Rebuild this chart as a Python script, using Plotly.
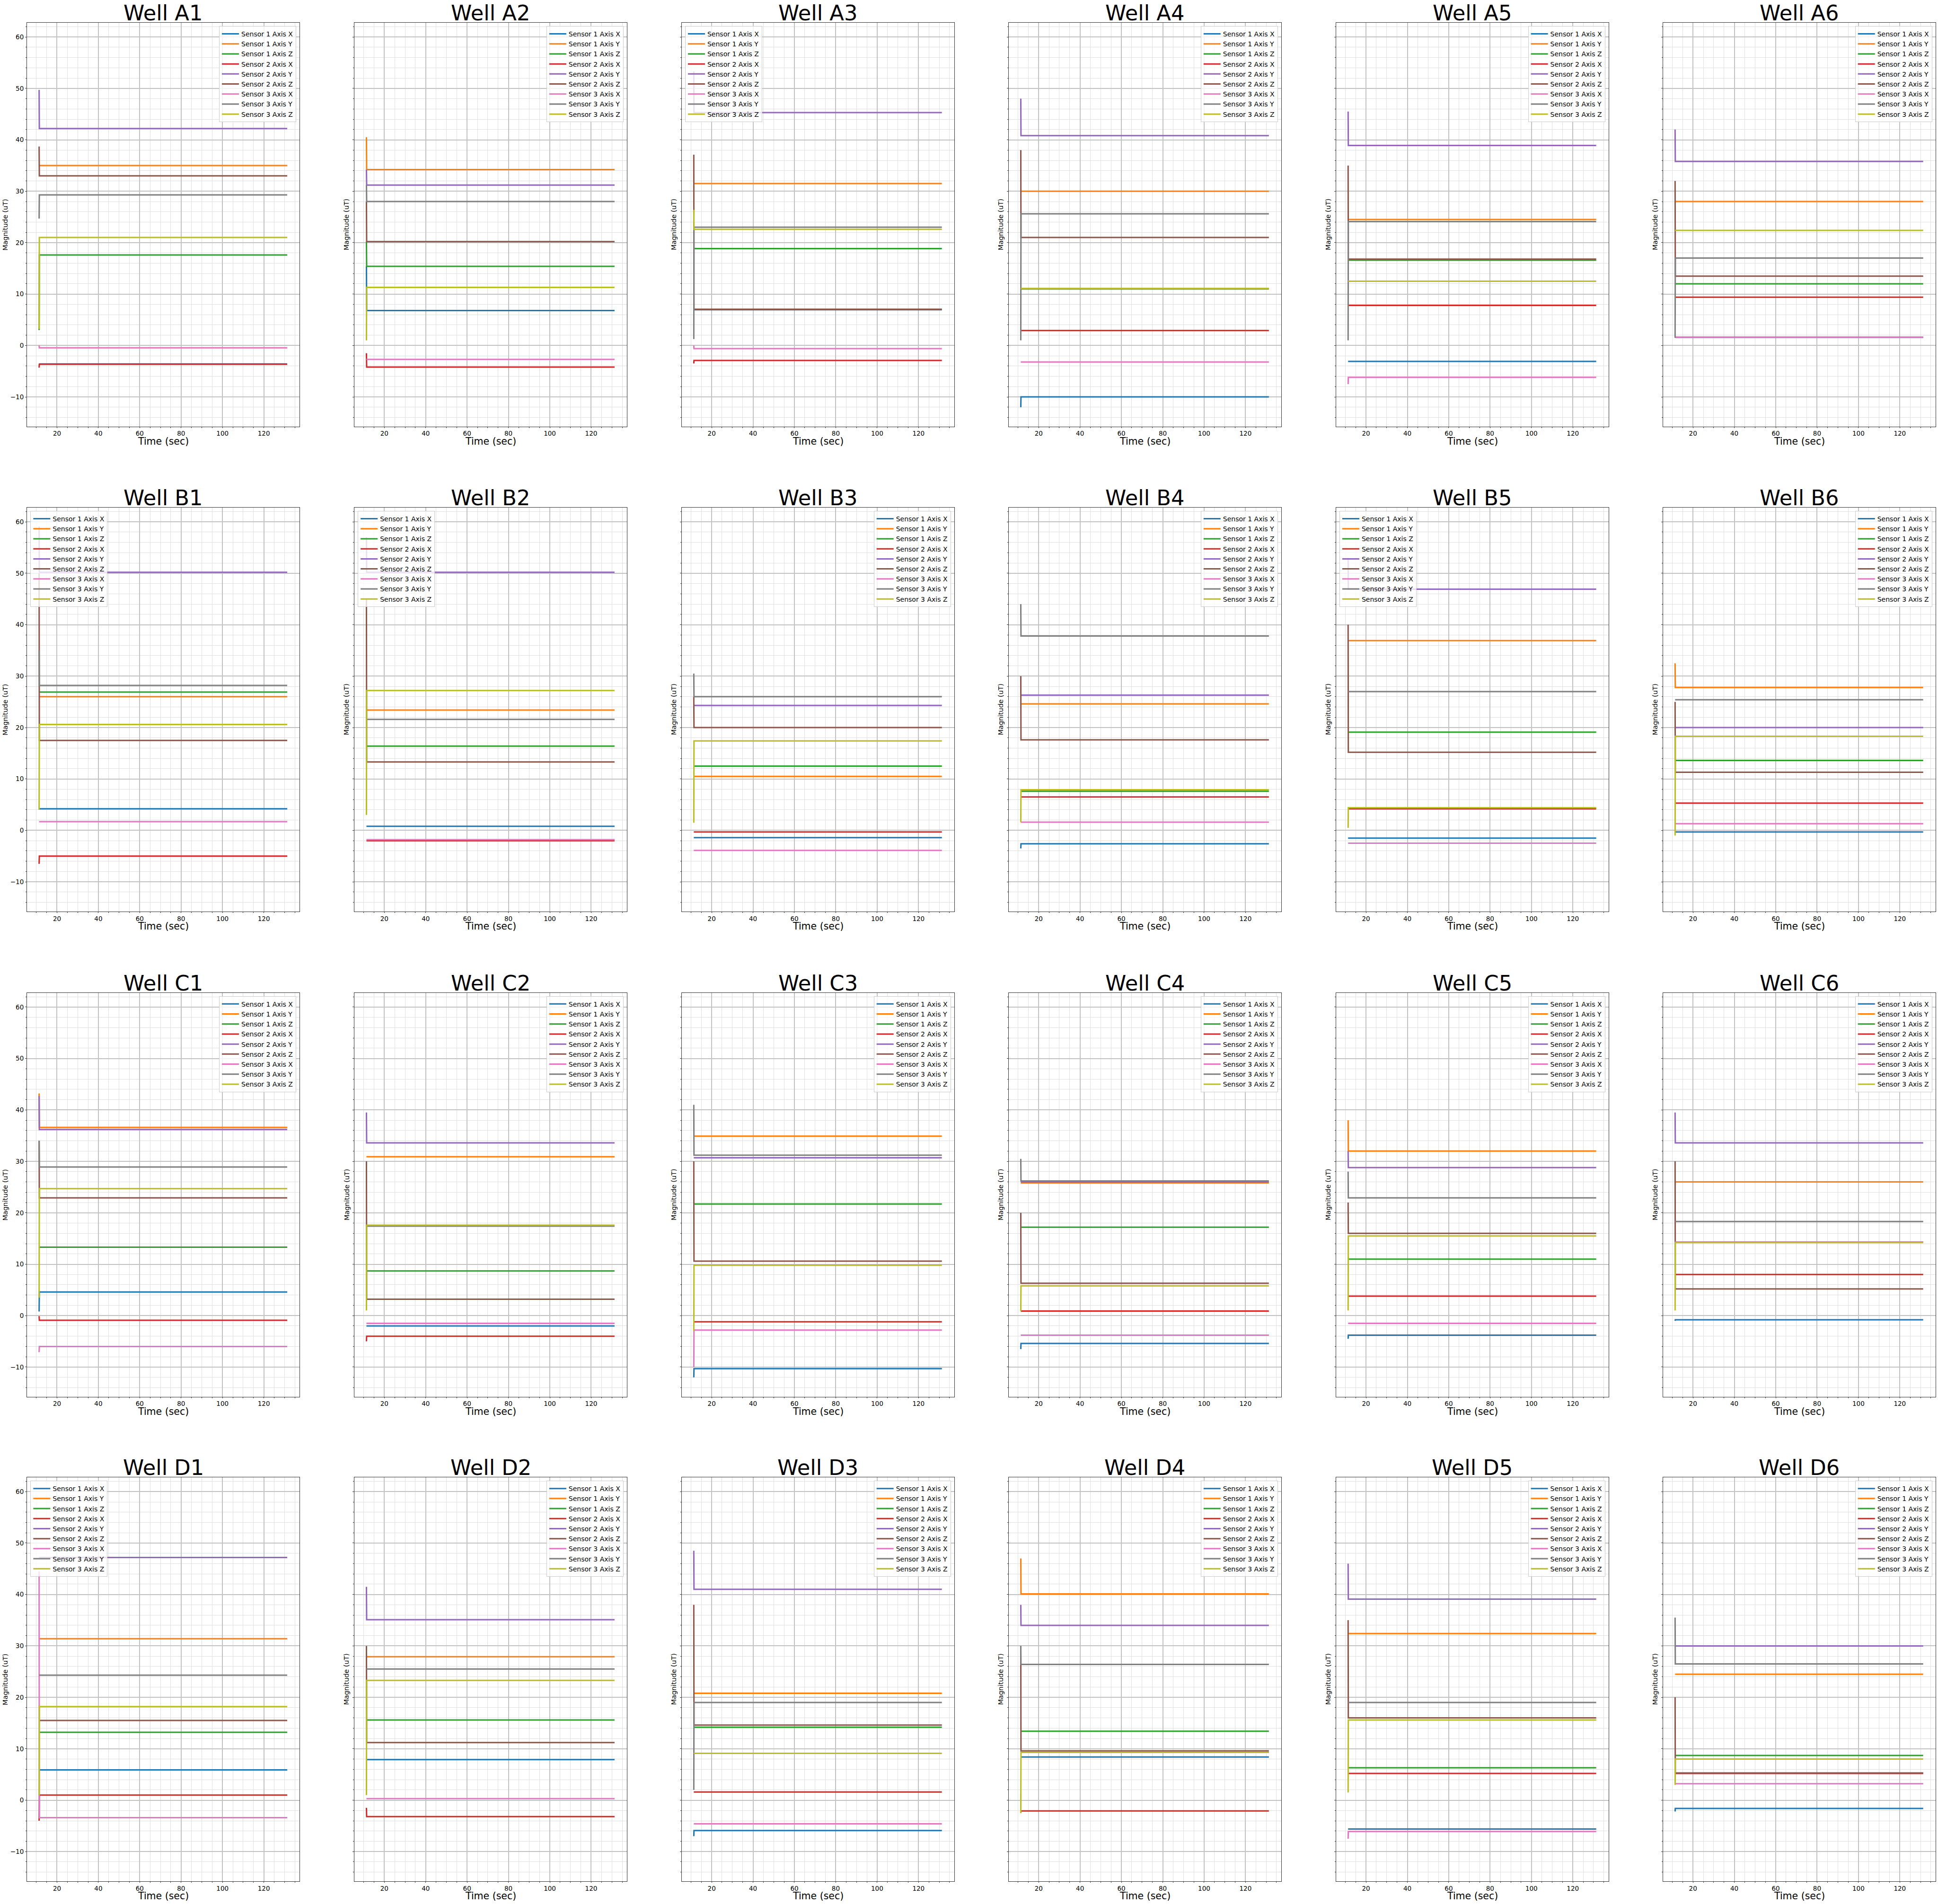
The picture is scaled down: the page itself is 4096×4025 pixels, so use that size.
import plotly.graph_objects as go

# ---------------- data ----------------
row_letters = ["A", "B", "C", "D"]
col_numbers = [1, 2, 3, 4, 5, 6]
series_names = ["Sensor 1 Axis X", "Sensor 1 Axis Y", "Sensor 1 Axis Z",
                "Sensor 2 Axis X", "Sensor 2 Axis Y", "Sensor 2 Axis Z",
                "Sensor 3 Axis X", "Sensor 3 Axis Y", "Sensor 3 Axis Z"]
time_points = [11.35, 11.45, 131.3]   # first sample, settled sample, last sample (sec)

# settled level of each series (uT), order = series_names
levels_A = [
    [-3.6, 35.0, 17.6, -3.65, 42.2, 33.0, -0.45, 29.3, 21.0],
    [6.8, 34.2, 15.4, -4.2, 31.2, 20.2, -2.7, 28.0, 11.3],
    [6.95, 31.5, 18.85, -2.9, 45.3, 7.05, -0.6, 23.0, 22.6],
    [-10.0, 30.0, 11.0, 2.9, 40.8, 21.0, -3.2, 25.6, 11.1],
    [-3.1, 24.5, 16.6, 7.8, 38.9, 16.8, -6.2, 24.1, 12.5],
    [1.6, 28.0, 12.0, 9.4, 35.8, 13.5, 1.6, 17.0, 22.4],
]
levels_B = [
    [4.2, 26.0, 26.9, -5.0, 50.2, 17.5, 1.7, 28.2, 20.6],
    [0.8, 23.4, 16.4, -2.0, 50.2, 13.3, -1.8, 21.6, 27.2],
    [-1.4, 10.5, 12.5, -0.3, 24.3, 20.0, -3.9, 26.0, 17.4],
    [-2.6, 24.6, 7.6, 6.5, 26.3, 17.6, 1.6, 37.8, 7.9],
    [-1.5, 36.9, 19.1, 4.2, 46.9, 15.2, -2.5, 27.0, 4.4],
    [-0.3, 27.8, 13.6, 5.3, 20.0, 11.3, 1.3, 25.4, 18.3],
]
levels_C = [
    [4.6, 36.6, 13.3, -0.9, 36.2, 22.9, -6.0, 28.9, 24.7],
    [-2.0, 30.9, 8.7, -4.0, 33.6, 3.2, -1.5, 17.4, 17.6],
    [-10.3, 34.9, 21.7, -1.2, 30.7, 10.6, -2.8, 31.2, 9.8],
    [-5.4, 25.8, 17.2, 0.9, 26.0, 6.3, -3.8, 26.2, 5.8],
    [-3.8, 32.0, 11.0, 3.8, 28.8, 16.0, -1.5, 22.9, 15.5],
    [-0.8, 26.0, 14.3, 8.0, 33.6, 5.2, 14.3, 18.3, 14.2],
]
levels_D = [
    [5.9, 31.4, 13.2, 1.0, 47.2, 15.5, -3.4, 24.3, 18.2],
    [7.9, 27.9, 15.6, -3.2, 35.1, 11.2, 0.3, 25.5, 23.3],
    [-5.9, 20.8, 14.2, 1.6, 41.0, 14.6, -4.6, 19.0, 9.1],
    [8.4, 40.1, 13.4, -2.1, 34.0, 9.6, 9.3, 26.4, 9.3],
    [-5.6, 32.4, 6.3, 5.2, 39.1, 16.0, -6.1, 19.0, 15.6],
    [-1.6, 24.5, 8.7, 5.2, 30.0, 5.3, 3.2, 26.5, 8.0],
]
# first (start-up) sample of each series (uT)
starts_A = [
    [-3.6, 35.0, 3.0, -4.3, 49.7, 38.7, 0.0, 24.7, 3.2],
    [15.4, 40.5, 20.2, -1.5, 34.2, 28.0, -2.7, 31.2, 1.0],
    [6.95, 31.5, 18.85, -3.5, 53.3, 37.1, 0.0, 1.25, 26.4],
    [-12.0, 30.0, 11.0, 2.9, 48.0, 38.0, -3.2, 1.0, 11.1],
    [-3.1, 24.5, 16.6, 7.8, 45.5, 35.0, -7.5, 1.0, 12.5],
    [1.6, 28.0, 12.0, 9.4, 42.0, 32.0, 1.6, 1.5, 22.4],
]
starts_B = [
    [4.2, 26.0, 26.9, -6.5, 59.1, 50.0, 1.7, 35.0, 4.0],
    [0.8, 23.4, 16.4, -2.0, 57.0, 45.0, -1.8, 21.6, 3.0],
    [-1.4, 10.5, 12.5, -0.3, 24.3, 26.0, -3.9, 30.5, 1.5],
    [-3.5, 24.6, 7.6, 6.5, 26.3, 30.0, 1.6, 44.0, 1.6],
    [-1.5, 36.9, 19.1, 4.2, 53.0, 40.0, -2.5, 27.0, 0.5],
    [-0.3, 32.5, 13.6, 5.3, 20.0, 25.0, 1.3, 25.4, -1.0],
]
starts_C = [
    [0.8, 43.2, 13.3, -0.1, 42.7, 34.0, -7.1, 34.0, 3.5],
    [-2.0, 30.9, 8.7, -5.0, 39.5, 30.0, -1.5, 17.4, 1.0],
    [-12.0, 34.9, 21.7, -1.2, 30.7, 30.0, -10.0, 41.0, -3.0],
    [-6.5, 25.8, 17.2, 0.9, 26.0, 20.0, -3.8, 30.5, 0.9],
    [-4.5, 38.0, 11.0, 3.8, 32.0, 22.0, -1.5, 28.0, 1.0],
    [-1.0, 26.0, 14.3, 8.0, 39.5, 30.0, 14.3, 18.3, 1.0],
]
starts_D = [
    [5.9, 31.4, 13.2, -4.0, 47.2, 15.5, 44.5, 24.3, 1.0],
    [7.9, 27.9, 15.6, -1.5, 41.5, 30.0, 0.3, 25.5, 1.0],
    [-7.0, 20.8, 14.2, 1.6, 48.5, 38.0, -4.6, 2.0, 9.1],
    [8.4, 47.0, 13.4, -2.5, 38.0, 30.0, 9.3, 30.0, -2.5],
    [-5.6, 32.4, 6.3, 5.2, 46.0, 35.0, -7.5, 19.0, 1.5],
    [-2.2, 24.5, 8.7, 5.2, 30.0, 20.0, 3.2, 35.5, 3.0],
]
legend_side_A = ["right", "right", "left", "right", "right", "right"]
legend_side_B = ["left", "left", "right", "right", "left", "right"]
legend_side_C = ["right", "right", "right", "right", "right", "right"]
legend_side_D = ["left", "right", "right", "right", "right", "right"]

x_ticks = [20, 40, 60, 80, 100, 120]
y_ticks = [-10, 0, 10, 20, 30, 40, 50, 60]

# ---------------- style / layout ----------------
colors = ["#1f77b4", "#ff7f0e", "#2ca02c", "#d62728", "#9467bd",
          "#8c564b", "#e377c2", "#7f7f7f", "#bcbd22"]
FONT = "DejaVu Sans"
REF_W, REF_H = 5666.0, 5568.0
col_left = [79, 1036, 1993, 2949, 3906, 4862]
col_w = 797
row_top = [66, 1484, 2903, 4320]
row_h = 1182


def px(xf):
    return xf / REF_W


def py(yf):
    return 1 - yf / REF_H


all_levels = [levels_A, levels_B, levels_C, levels_D]
all_starts = [starts_A, starts_B, starts_C, starts_D]
all_sides = [legend_side_A, legend_side_B, legend_side_C, legend_side_D]

fig = go.Figure()
layout = dict(
    width=4096, height=4025,
    margin=dict(l=0, r=0, t=0, b=0),
    paper_bgcolor="white", plot_bgcolor="white",
    font=dict(family=FONT, color="black"),
    showlegend=True,
)
annotations = []

n = 0
for r, letter in enumerate(row_letters):
    for c, num in enumerate(col_numbers):
        n += 1
        sfx = "" if n == 1 else str(n)
        lkey = "legend" if n == 1 else "legend%d" % n
        x0f = col_left[c]
        x1f = col_left[c] + col_w
        y0f = row_top[r]
        y1f = row_top[r] + row_h
        lv = all_levels[r][c]
        st = all_starts[r][c]
        for k in range(9):
            fig.add_trace(go.Scatter(
                x=time_points, y=[st[k], lv[k], lv[k]],
                mode="lines", name=series_names[k],
                line=dict(color=colors[k], width=3),
                xaxis="x" + sfx, yaxis="y" + sfx, legend=lkey,
                hoverinfo="skip",
            ))
        axis_common = dict(
            showline=True, mirror=True, linecolor="#333333", linewidth=1.2,
            ticks="outside", tickwidth=1, tickcolor="#333333",
            showgrid=True, gridcolor="#c2c2c2", gridwidth=1.6,
            zeroline=False,
            tickfont=dict(family=FONT, size=13.5, color="black"),
        )
        layout["xaxis" + sfx] = dict(
            axis_common, ticklen=2,
            domain=[px(x0f), px(x1f)], anchor="y" + sfx,
            range=[5.5, 137.3], tickmode="array", tickvals=x_ticks,
            minor=dict(dtick=5, tick0=0, showgrid=True, gridcolor="#e0e0e0",
                       gridwidth=1, ticks="outside", ticklen=2,
                       tickcolor="#333333"),
        )
        layout["yaxis" + sfx] = dict(
            axis_common, ticklen=3,
            domain=[py(y1f), py(y0f)], anchor="x" + sfx,
            range=[-15.8, 62.8], tickmode="array", tickvals=y_ticks,
            showticklabels=(c == 0),
            minor=dict(dtick=2, tick0=0, showgrid=True, gridcolor="#e0e0e0",
                       gridwidth=1, ticks="outside", ticklen=2,
                       tickcolor="#333333"),
        )
        side = all_sides[r][c]
        if side == "right":
            lx, lxa = px(x1f - 10), "right"
        else:
            lx, lxa = px(x0f + 10), "left"
        layout[lkey] = dict(
            x=lx, xanchor=lxa, y=py(y0f + 10), yanchor="top",
            xref="paper", yref="paper",
            bgcolor="rgba(255,255,255,0.8)", bordercolor="#cccccc", borderwidth=1,
            font=dict(family=FONT, size=14, color="black"),
            tracegroupgap=0, itemwidth=36,
        )
        cx = (x0f + x1f) / 2
        annotations.append(dict(
            text="Well %s%d" % (letter, num), x=px(cx), y=py(y0f - 28),
            xref="paper", yref="paper", xanchor="center", yanchor="middle",
            showarrow=False, font=dict(family=FONT, size=44.8, color="black"),
        ))
        annotations.append(dict(
            text="Time (sec)", x=px(cx), y=py(y1f + 43),
            xref="paper", yref="paper", xanchor="center", yanchor="middle",
            showarrow=False, font=dict(family=FONT, size=20.5, color="black"),
        ))
        ylab_off = 64 if c == 0 else 23
        annotations.append(dict(
            text="Magnitude (uT)", x=px(x0f - ylab_off), y=py((y0f + y1f) / 2),
            xref="paper", yref="paper", xanchor="center", yanchor="middle",
            textangle=-90, showarrow=False,
            font=dict(family=FONT, size=14.3, color="black"),
        ))

layout["annotations"] = annotations
fig.update_layout(**layout)
fig.write_html("out.html")
